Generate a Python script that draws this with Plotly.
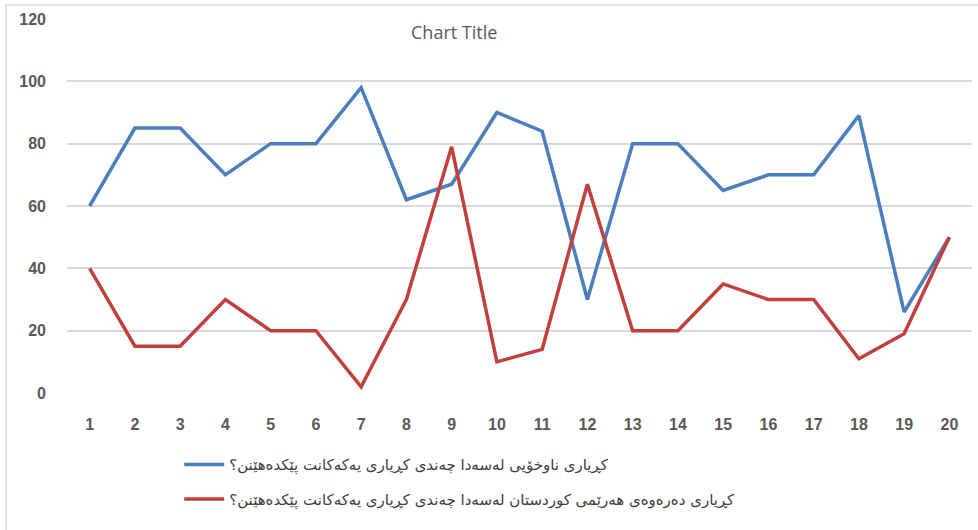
import plotly.graph_objects as go

categories = [str(i) for i in range(1, 21)]
domestic = [60, 85, 85, 70, 80, 80, 98, 62, 67, 90, 84, 30, 80, 80, 65, 70, 70, 89, 26, 50]
outside = [40, 15, 15, 30, 20, 20, 2, 30, 79, 10, 14, 67, 20, 20, 35, 30, 30, 11, 19, 50]
series_names = [
    "کڕیاری ناوخۆیی لەسەدا چەندی کڕیاری یەکەکانت پێکدەهێنن؟",
    "کڕیاری دەرەوەی هەرێمی کوردستان لەسەدا چەندی کڕیاری یەکەکانت پێکدەهێنن؟",
]
y_ticks = [0, 20, 40, 60, 80, 100, 120]

fig = go.Figure()
fig.add_trace(go.Scatter(x=categories, y=domestic, mode="lines", name=series_names[0],
                         legendgroup="a", line=dict(color="#4a7ebf", width=3.5)))
fig.add_trace(go.Scatter(x=categories, y=outside, mode="lines", name=series_names[1],
                         legendgroup="b", line=dict(color="#c0403c", width=3.5)))

tick_font = dict(size=16, color="#595959", family="Liberation Sans Narrow, Liberation Sans",
                 weight="bold")

fig.update_layout(
    width=978, height=530,
    margin=dict(l=67, r=6, t=19, b=137),
    paper_bgcolor="white", plot_bgcolor="white",
    font=dict(family="Liberation Sans Narrow, Liberation Sans, DejaVu Sans", color="#595959"),
    showlegend=True,
    legend=dict(x=0.124, y=-0.148, xanchor="left", yanchor="top", orientation="v",
                traceorder="grouped",
                font=dict(family="DejaVu Sans", size=15, color="#404040"),
                tracegroupgap=12, itemwidth=40, bgcolor="rgba(0,0,0,0)"),
    annotations=[dict(text="Chart Title", xref="paper", yref="paper", x=0.428, y=0.966,
                      xanchor="center", yanchor="middle", showarrow=False,
                      font=dict(family="Open Sans, DejaVu Sans", size=18, color="#595959"))],
    shapes=[dict(type="rect", xref="paper", yref="paper",
                 x0=(6 - 67) / 905, x1=(990 - 67) / 905,
                 y0=-(560 - 393) / 374, y1=1 + (19 - 5) / 374,
                 line=dict(color="#d9d9d9", width=1.5), layer="below")],
)
fig.update_xaxes(type="category", range=[-0.5, 19.5], showgrid=False, zeroline=False,
                 showline=False, ticks="", ticklabelstandoff=20, automargin=False,
                 tickfont=tick_font)
fig.update_yaxes(range=[0, 120], tickvals=y_ticks, showgrid=True, gridcolor="#d9d9d9",
                 gridwidth=1.5, zeroline=False, showline=False, ticks="", ticklabelstandoff=20,
                 automargin=False, tickfont=tick_font)

fig.write_html("out.html", config={"displayModeBar": False},
               post_script="document.body.style.margin='0px';")
